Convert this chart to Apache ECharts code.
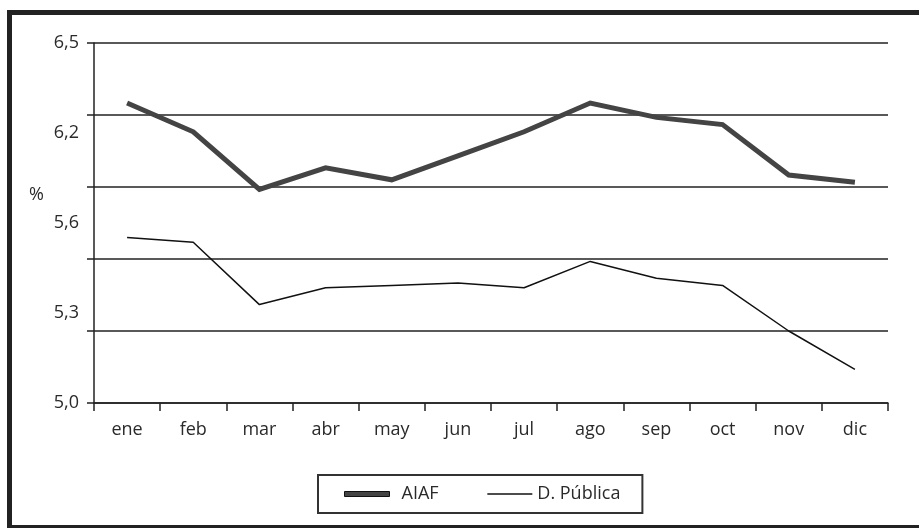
<!DOCTYPE html>
<html>
<head>
<meta charset="utf-8">
<script src="https://cdn.jsdelivr.net/npm/echarts@6/dist/echarts.min.js"></script>
<style>
html,body{margin:0;padding:0;background:#fff;}
#chart{width:919px;height:528px;}
</style>
</head>
<body>
<div id="chart"></div>
<script>
const months = ['ene','feb','mar','abr','may','jun','jul','ago','sep','oct','nov','dic'];
const aiaf = [6.25, 6.13, 5.89, 5.98, 5.93, 6.03, 6.13, 6.25, 6.19, 6.16, 5.95, 5.92];
const dPublica = [5.69, 5.67, 5.41, 5.48, 5.49, 5.50, 5.48, 5.59, 5.52, 5.49, 5.30, 5.14];
const yTickLabels = ['5,0', '5,3', '5,6', '6,2', '6,5'];
const unitLabel = '%';

const FONT = '"Open Sans", "DejaVu Sans", sans-serif';
const TXT = '#2a2a2a';
const LINE = '#222';

const chart = echarts.init(document.getElementById('chart'), null, {renderer: 'canvas'});
chart.setOption({
  animation: false,
  backgroundColor: '#fff',
  grid: {left: 94, right: 31, top: 43, bottom: 125, containLabel: false},
  xAxis: {
    type: 'category',
    data: months,
    boundaryGap: true,
    axisLine: {show: true, lineStyle: {color: LINE, width: 1.5}},
    axisTick: {show: true, length: 8, lineStyle: {color: LINE, width: 1.5}},
    axisLabel: {color: TXT, fontFamily: FONT, fontSize: 18, margin: 18},
    splitLine: {show: false}
  },
  yAxis: [
    {
      type: 'value', min: 5.0, max: 6.5, show: false,
      splitLine: {show: false}
    },
    {
      type: 'value', min: 0, max: 5, interval: 1, position: 'left',
      axisLine: {show: true, lineStyle: {color: LINE, width: 1.5}},
      axisTick: {show: true, length: 7, lineStyle: {color: LINE, width: 1.5}},
      axisLabel: {show: false},
      splitLine: {show: true, lineStyle: {color: LINE, width: 1.5}}
    },
    {
      type: 'value', min: 0, max: 4, interval: 1, position: 'left',
      axisLine: {show: false}, axisTick: {show: false}, splitLine: {show: false},
      axisLabel: {
        color: TXT, fontFamily: FONT, fontSize: 18, margin: 15,
        formatter: function (v) { return yTickLabels[Math.round(v)]; }
      }
    }
  ],
  legend: {
    left: 318, top: 475,
    orient: 'horizontal',
    borderColor: '#333', borderWidth: 2,
    padding: [10, 22, 10, 26],
    itemGap: 48,
    itemWidth: 45, itemHeight: 5,
    textStyle: {color: TXT, fontFamily: FONT, fontSize: 18},
    data: [
      {name: 'AIAF', icon: 'rect', itemStyle: {color: '#444', borderColor: '#111', borderWidth: 1},
       textStyle: {color: TXT, fontFamily: FONT, fontSize: 18, padding: [0, 0, 0, 7]}},
      {name: 'D. Pública', itemStyle: {opacity: 0}, lineStyle: {color: '#111', width: 1.5, opacity: 1}}
    ]
  },
  graphic: [
    {type: 'rect', shape: {x: 9.5, y: 12.5, width: 920, height: 515}, style: {fill: 'none', stroke: '#222', lineWidth: 5}, silent: true},
    {type: 'text', left: 29, top: 186, style: {text: unitLabel, fill: TXT, font: '18px ' + FONT}}
  ],
  series: [
    {
      name: 'AIAF', type: 'line', data: aiaf, yAxisIndex: 0,
      symbol: 'none', smooth: false,
      lineStyle: {color: '#444', width: 5, join: 'miter'},
      itemStyle: {color: '#444'}
    },
    {
      name: 'D. Pública', type: 'line', data: dPublica, yAxisIndex: 0,
      symbol: 'none', smooth: false,
      lineStyle: {color: '#111', width: 1.5},
      itemStyle: {color: '#111'}
    }
  ]
});
</script>
</body>
</html>
